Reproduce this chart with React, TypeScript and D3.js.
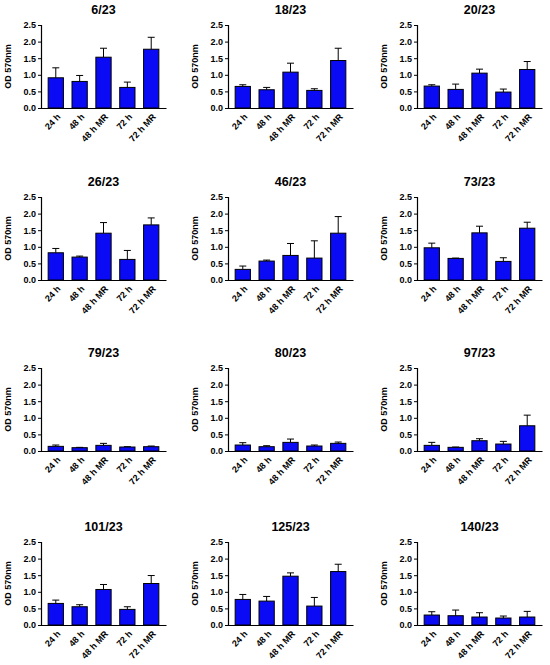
import React, { useEffect, useRef } from 'react';
import * as d3 from 'd3';

const conditions = ['24 h', '48 h', '48 h MR', '72 h', '72 h MR'];
const strains = ['6/23', '18/23', '20/23', '26/23', '46/23', '73/23', '79/23', '80/23', '97/23', '101/23', '125/23', '140/23'];
const yTicks = [0, 0.5, 1.0, 1.5, 2.0, 2.5];

// mean OD per strain, order follows `conditions`
const means = [
  [0.91, 0.80, 1.53, 0.62, 1.77],
  [0.65, 0.55, 1.08, 0.53, 1.43],
  [0.66, 0.56, 1.05, 0.48, 1.16],
  [0.82, 0.69, 1.41, 0.62, 1.66],
  [0.32, 0.57, 0.74, 0.66, 1.41],
  [0.97, 0.65, 1.42, 0.56, 1.56],
  [0.14, 0.10, 0.17, 0.12, 0.13],
  [0.18, 0.13, 0.26, 0.15, 0.23],
  [0.17, 0.11, 0.31, 0.21, 0.76],
  [0.65, 0.55, 1.07, 0.47, 1.25],
  [0.77, 0.72, 1.47, 0.57, 1.61],
  [0.30, 0.28, 0.24, 0.21, 0.24],
];

// upper error (SD)
const errors = [
  [0.30, 0.18, 0.27, 0.16, 0.36],
  [0.05, 0.07, 0.27, 0.05, 0.37],
  [0.04, 0.16, 0.12, 0.09, 0.24],
  [0.13, 0.03, 0.32, 0.27, 0.21],
  [0.10, 0.03, 0.36, 0.52, 0.50],
  [0.14, 0.01, 0.20, 0.11, 0.18],
  [0.04, 0.01, 0.06, 0.01, 0.02],
  [0.07, 0.03, 0.10, 0.03, 0.04],
  [0.09, 0.01, 0.06, 0.08, 0.32],
  [0.10, 0.06, 0.15, 0.08, 0.24],
  [0.15, 0.14, 0.10, 0.26, 0.22],
  [0.10, 0.17, 0.13, 0.06, 0.17],
];

const rowTop = [25, 197, 368, 542];
const colLeft = [41, 228, 417];
const plotW = 125;
const plotH = 83;
const font = '"Liberation Sans", Arial, sans-serif';

const App: React.FC = () => {
  const ref = useRef<SVGSVGElement | null>(null);

  useEffect(() => {
    if (!ref.current) return;
    const svg = d3.select(ref.current);
    svg.selectAll('*').remove();

    const x = d3.scaleBand().domain(conditions).range([0, plotW]).paddingInner(0.36).paddingOuter(0.3);
    const y = d3.scaleLinear().domain([0, 2.5]).range([plotH, 0]);

    strains.forEach((name, i) => {
      const left = colLeft[i % 3];
      const top = rowTop[Math.floor(i / 3)];
      const g = svg.append('g').attr('transform', `translate(${left}, ${top})`);

      g.append('text')
        .attr('x', plotW / 2)
        .attr('y', -11)
        .attr('text-anchor', 'middle')
        .style('font-family', font)
        .style('font-weight', 'bold')
        .style('font-size', '12.5px')
        .text(name);

      g.append('text')
        .attr('transform', `translate(-30, ${plotH / 2}) rotate(-90)`)
        .attr('text-anchor', 'middle')
        .style('font-family', font)
        .style('font-weight', 'bold')
        .style('font-size', '9px')
        .text('OD 570nm');

      const yAxis = g.append('g')
        .call(d3.axisLeft(y).tickValues(yTicks).tickFormat(d3.format('.1f')).tickSize(3).tickPadding(2));
      yAxis.select('.domain').attr('stroke-width', 1.2);
      yAxis.selectAll('line').attr('stroke-width', 1);
      yAxis.selectAll('text')
        .style('font-family', font)
        .style('font-weight', 'bold')
        .style('font-size', '9px')
        .style('fill', '#000');

      const xAxis = g.append('g')
        .attr('transform', `translate(0, ${plotH})`)
        .call(d3.axisBottom(x).tickSize(0).tickSizeOuter(0));
      xAxis.select('.domain').attr('stroke-width', 1.2);
      xAxis.selectAll('text')
        .attr('y', 0)
        .attr('dy', '0.35em')
        .attr('transform', 'translate(3,7) rotate(-47)')
        .attr('text-anchor', 'end')
        .style('font-family', font)
        .style('font-weight', 'bold')
        .style('font-size', '9px')
        .style('fill', '#000');

      const rows = conditions.map((c, j) => ({ c, m: means[i][j], e: errors[i][j] }));

      const err = g.append('g').attr('stroke', '#000').attr('stroke-width', 1);
      err.selectAll('.stem')
        .data(rows)
        .enter()
        .append('line')
        .attr('x1', d => x(d.c)! + x.bandwidth() / 2)
        .attr('x2', d => x(d.c)! + x.bandwidth() / 2)
        .attr('y1', d => y(d.m))
        .attr('y2', d => y(d.m + d.e));
      err.selectAll('.cap')
        .data(rows)
        .enter()
        .append('line')
        .attr('x1', d => x(d.c)! + x.bandwidth() / 2 - 3.5)
        .attr('x2', d => x(d.c)! + x.bandwidth() / 2 + 3.5)
        .attr('y1', d => y(d.m + d.e))
        .attr('y2', d => y(d.m + d.e));

      g.selectAll('.bar')
        .data(rows)
        .enter()
        .append('rect')
        .attr('x', d => x(d.c)!)
        .attr('y', d => y(d.m))
        .attr('width', x.bandwidth())
        .attr('height', d => plotH - y(d.m))
        .attr('fill', '#0a0af5')
        .attr('stroke', '#000')
        .attr('stroke-width', 1);
    });
  }, []);

  return (
    <svg
      ref={ref}
      width={550}
      height={665}
      style={{ position: 'absolute', left: 0, top: 0, background: '#fff' }}
    />
  );
};

export default App;
